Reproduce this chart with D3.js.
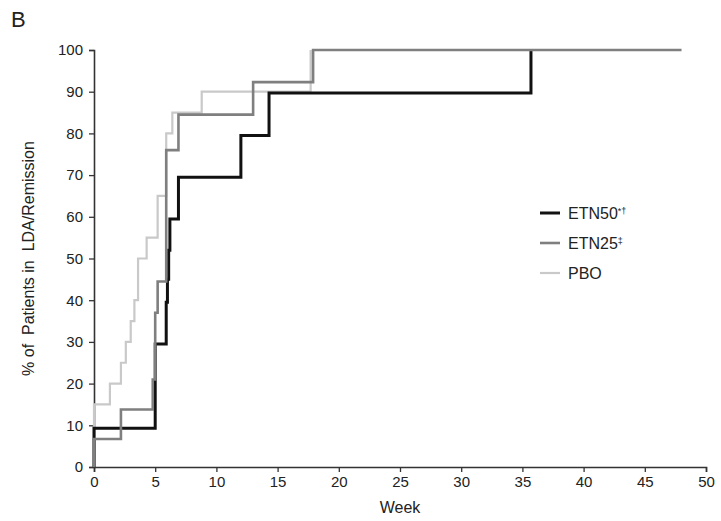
<!DOCTYPE html>
<html>
<head>
<meta charset="utf-8">
<script src="https://cdn.jsdelivr.net/npm/d3@7"></script>
<style>
  body { margin: 0; background: #fff; }
  svg text { font-family: "Liberation Sans", Arial, sans-serif; fill: #222; }
</style>
</head>
<body>
<div id="chart"></div>
<script>
// Step data (week, % of patients)
var etn50Weeks  = [0, 0, 5.0, 5.9, 6.0, 6.1, 6.2, 6.9, 12.0, 14.3, 35.7];
var etn50Values = [0, 9.3, 29.5, 39.5, 45, 52, 59.5, 69.5, 79.5, 89.7, 100];

var etn25Weeks  = [0, 0, 2.2, 4.8, 5.0, 5.2, 5.9, 6.9, 13.0, 17.9, 48];
var etn25Values = [0, 6.7, 13.8, 21, 37, 44.5, 76, 84.5, 92.3, 100, 100];

var pboWeeks  = [0, 0, 1.3, 2.2, 2.6, 3.0, 3.3, 3.6, 4.3, 5.2, 5.9, 6.4, 8.8, 17.7];
var pboValues = [0, 15, 20, 25, 30, 35, 40, 50, 55, 65, 80, 85, 90, 100];

var xTicks = [0, 5, 10, 15, 20, 25, 30, 35, 40, 45, 50];
var yTicks = [0, 10, 20, 30, 40, 50, 60, 70, 80, 90, 100];

var seriesNames  = ['ETN50', 'ETN25', 'PBO'];
var seriesSup    = ['*\u2020', '\u2021', ''];
var seriesColors = ['#111111', '#7f7f7f', '#c9c9c9'];
var seriesWidths = [3, 2.6, 2.2];

var width = 721, height = 521;
var svg = d3.select('#chart').append('svg')
    .attr('width', width)
    .attr('height', height);

// Scales
var xScale = d3.scaleLinear().domain([0, 50]).range([94, 706]);
var yScale = d3.scaleLinear().domain([0, 100]).range([467, 50]);

// Axes
var xAxis = d3.axisBottom(xScale).tickValues(xTicks).tickSize(5).tickPadding(4);
var yAxis = d3.axisLeft(yScale).tickValues(yTicks).tickSize(5).tickPadding(6);

var gx = svg.append('g')
    .attr('transform', 'translate(0,' + yScale(0) + ')')
    .call(xAxis);
var gy = svg.append('g')
    .attr('transform', 'translate(' + xScale(0) + ',0)')
    .call(yAxis);

[gx, gy].forEach(function(g) {
  g.select('.domain').attr('stroke', '#333').attr('stroke-width', 1.6);
  g.selectAll('.tick line').attr('stroke', '#333').attr('stroke-width', 1.3);
  g.selectAll('.tick text').style('font-size', '15px').attr('fill', '#222');
});

// Axis labels
svg.append('text')
    .attr('x', xScale(25))
    .attr('y', 513)
    .attr('text-anchor', 'middle')
    .style('font-size', '16px')
    .text('Week');

svg.append('text')
    .attr('transform', 'translate(34,' + yScale(50) + ')rotate(-90)')
    .attr('text-anchor', 'middle')
    .style('font-size', '16px')
    .style('white-space', 'pre')
    .text('% of  Patients in  LDA/Remission');

// Panel letter
svg.append('text')
    .attr('x', 11)
    .attr('y', 27)
    .style('font-size', '22px')
    .text('B');

// Step lines
var line = d3.line()
    .x(function(d) { return xScale(d[0]); })
    .y(function(d) { return yScale(d[1]); })
    .curve(d3.curveStepAfter);

var seriesData = [
  d3.zip(etn50Weeks, etn50Values),
  d3.zip(etn25Weeks, etn25Values),
  d3.zip(pboWeeks, pboValues)
];

// draw PBO first, then ETN50, then ETN25 on top
[2, 0, 1].forEach(function(i) {
  svg.append('path')
      .datum(seriesData[i])
      .attr('fill', 'none')
      .attr('stroke', seriesColors[i])
      .attr('stroke-width', seriesWidths[i])
      .attr('stroke-linejoin', 'miter')
      .attr('d', line);
});

// Legend
var legend = svg.append('g').attr('transform', 'translate(540,213)');
seriesNames.forEach(function(name, i) {
  var row = legend.append('g').attr('transform', 'translate(0,' + (i * 30) + ')');
  row.append('line')
      .attr('x1', 0).attr('x2', 20)
      .attr('y1', 0).attr('y2', 0)
      .attr('stroke', seriesColors[i])
      .attr('stroke-width', seriesWidths[i]);
  var t = row.append('text')
      .attr('x', 28)
      .attr('y', 6)
      .style('font-size', '16px')
      .text(name);
  if (seriesSup[i]) {
    t.append('tspan')
        .attr('dy', -5)
        .style('font-size', '9px')
        .text(seriesSup[i]);
  }
});
</script>
</body>
</html>
